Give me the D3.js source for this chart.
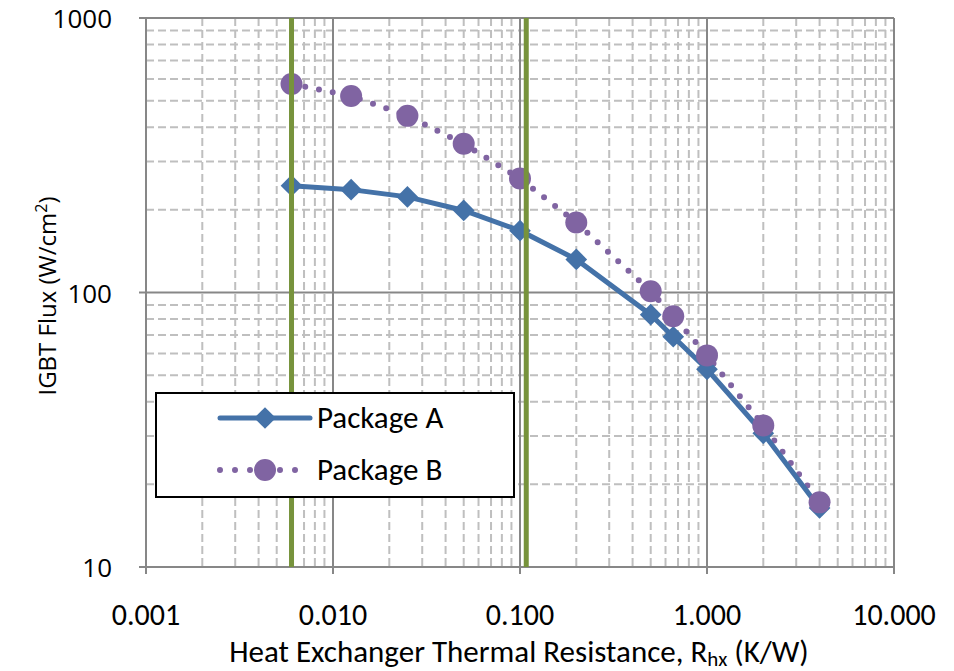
<!DOCTYPE html>
<html>
<head>
<meta charset="utf-8">
<script src="https://cdn.jsdelivr.net/npm/d3@7"></script>
<style>
  body { margin: 0; background: #fff; }
  .tick-y { font-family: "Open Sans", "DejaVu Sans", sans-serif; font-size: 26px; fill: #000; }
  .tick-x, .legend text, .xtitle { font-family: Carlito, "Liberation Sans Narrow", "Open Sans", sans-serif; font-size: 31px; fill: #000; }
  .tick-x { font-size: 30px; }
  .ytitle { font-family: "Open Sans", sans-serif; font-size: 24px; fill: #000; }
</style>
</head>
<body>
<div id="chart"></div>
<script>
// data
var resistance = [0.006, 0.0125, 0.025, 0.05, 0.1, 0.2, 0.5, 0.66, 1.0, 2.0, 4.0];
var packageA = [245, 237, 223, 199, 168, 132, 83, 69, 52.5, 30.7, 16.4];
var packageB = [575, 520, 440, 348, 260, 180, 101, 82, 59, 32.8, 17.2];
var markerLines = [0.006, 0.108];
var xTicks = [0.001, 0.01, 0.1, 1, 10];
var yTicks = [10, 100, 1000];
var seriesNames = ["Package A", "Package B"];

var width = 954, height = 671;
var margin = {top: 18, right: 60, bottom: 104, left: 146};

var svg = d3.select("#chart").append("svg")
  .attr("width", width).attr("height", height);

var x = d3.scaleLog().domain([0.001, 10]).range([margin.left, width - margin.right]);
var y = d3.scaleLog().domain([10, 1000]).range([height - margin.bottom, margin.top]);

// minor grid values (2..9 in each decade)
var xMinor = [], yMinor = [];
[0.001, 0.01, 0.1, 1].forEach(function(d) {
  for (var k = 2; k <= 9; k++) xMinor.push(d * k);
});
[10, 100].forEach(function(d) {
  for (var k = 2; k <= 9; k++) yMinor.push(d * k);
});

var grid = svg.append("g");
grid.selectAll("line.xm").data(xMinor).enter().append("line")
  .attr("x1", d => x(d)).attr("x2", d => x(d))
  .attr("y1", y(1000)).attr("y2", y(10))
  .attr("stroke", "#bfbfbf").attr("stroke-width", 2).attr("stroke-dasharray", "8,4");
grid.selectAll("line.ym").data(yMinor).enter().append("line")
  .attr("x1", x(0.001)).attr("x2", x(10))
  .attr("y1", d => y(d)).attr("y2", d => y(d))
  .attr("stroke", "#bfbfbf").attr("stroke-width", 2).attr("stroke-dasharray", "8,4");
grid.selectAll("line.xM").data(xTicks).enter().append("line")
  .attr("x1", d => x(d)).attr("x2", d => x(d))
  .attr("y1", y(1000)).attr("y2", y(10) + 7)
  .attr("stroke", "#878787").attr("stroke-width", 2);
grid.selectAll("line.yM").data(yTicks).enter().append("line")
  .attr("x1", x(0.001) - 7).attr("x2", x(10))
  .attr("y1", d => y(d)).attr("y2", d => y(d))
  .attr("stroke", "#878787").attr("stroke-width", 2);

// tick labels
svg.selectAll("text.tick-x").data(xTicks).enter().append("text")
  .attr("class", "tick-x")
  .attr("x", d => x(d)).attr("y", 625)
  .attr("text-anchor", "middle")
  .text(d => d3.format(".3f")(d));
svg.selectAll("text.tick-y").data(yTicks).enter().append("text")
  .attr("class", "tick-y")
  .attr("x", 112).attr("y", d => y(d) + 10)
  .attr("text-anchor", "end")
  .text(d => d);

// axis titles
var xt = svg.append("text").attr("class", "xtitle")
  .attr("x", 519).attr("y", 662).attr("text-anchor", "middle");
xt.append("tspan").text("Heat Exchanger Thermal Resistance, R");
xt.append("tspan").attr("dy", 4).attr("font-size", 21).text("hx");
xt.append("tspan").attr("dy", -4).text(" (K/W)");

var yt = svg.append("text").attr("class", "ytitle")
  .attr("transform", "translate(56,296) rotate(-90)")
  .attr("text-anchor", "middle");
yt.append("tspan").text("IGBT Flux (W/cm");
yt.append("tspan").attr("dy", -9).attr("font-size", 16).text("2");
yt.append("tspan").attr("dy", 9).text(")");

// series
var ptsA = resistance.map((r, i) => [r, packageA[i]]);
var ptsB = resistance.map((r, i) => [r, packageB[i]]);
var line = d3.line().x(d => x(d[0])).y(d => y(d[1]));

svg.append("path").datum(ptsB).attr("d", line)
  .attr("fill", "none").attr("stroke", "#8064a2").attr("stroke-width", 6)
  .attr("stroke-linecap", "round").attr("stroke-dasharray", "0,14");
svg.append("path").datum(ptsA).attr("d", line)
  .attr("fill", "none").attr("stroke", "#4472a8").attr("stroke-width", 5);

var diamond = d3.symbol().type(d3.symbolDiamond2).size(300);
svg.selectAll("path.dA").data(ptsA).enter().append("path")
  .attr("d", diamond)
  .attr("transform", d => "translate(" + x(d[0]) + "," + y(d[1]) + ")")
  .attr("fill", "#4472a8");
svg.selectAll("circle.dB").data(ptsB).enter().append("circle")
  .attr("cx", d => x(d[0])).attr("cy", d => y(d[1])).attr("r", 11)
  .attr("fill", "#8064a2");

// green reference lines
svg.selectAll("line.green").data(markerLines).enter().append("line")
  .attr("x1", d => x(d)).attr("x2", d => x(d))
  .attr("y1", y(1000)).attr("y2", y(10))
  .attr("stroke", "#77933c").attr("stroke-width", 5);

// legend
var legend = svg.append("g").attr("class", "legend");
legend.append("rect").attr("x", 156).attr("y", 393).attr("width", 358).attr("height", 104)
  .attr("fill", "#fff").attr("stroke", "#000").attr("stroke-width", 2);
legend.append("line").attr("x1", 220).attr("x2", 310).attr("y1", 418).attr("y2", 418)
  .attr("stroke", "#4472a8").attr("stroke-width", 5).attr("stroke-linecap", "round");
legend.append("path").attr("d", diamond)
  .attr("transform", "translate(265,418)").attr("fill", "#4472a8");
legend.append("line").attr("x1", 220).attr("x2", 310).attr("y1", 470).attr("y2", 470)
  .attr("stroke", "#8064a2").attr("stroke-width", 6)
  .attr("stroke-linecap", "round").attr("stroke-dasharray", "0,15");
legend.append("circle").attr("cx", 265).attr("cy", 470).attr("r", 11).attr("fill", "#8064a2");
legend.selectAll("text").data(seriesNames).enter().append("text")
  .attr("x", 317).attr("y", (d, i) => 428 + i * 52)
  .text(d => d);
</script>
</body>
</html>
